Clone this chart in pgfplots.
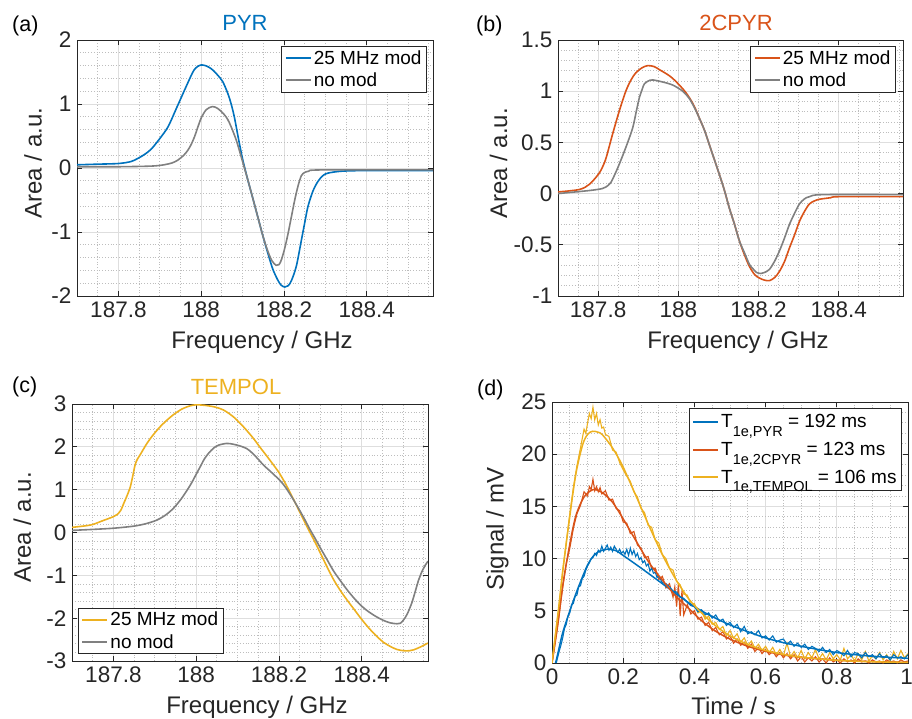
\documentclass[border=0pt]{standalone}
\usepackage{fontspec}
\setmainfont{Liberation Sans}
\usepackage{pgfplots}
\pgfplotsset{compat=1.18}
\definecolor{mblue}{rgb}{0,0.447,0.741}
\definecolor{morange}{rgb}{0.85,0.325,0.098}
\definecolor{myellow}{rgb}{0.929,0.694,0.125}
\definecolor{mgray}{rgb}{0.5,0.5,0.5}
\definecolor{axc}{rgb}{0.15,0.15,0.15}
\definecolor{gridc}{rgb}{0.87,0.87,0.87}
\definecolor{mgridc}{rgb}{0.74,0.74,0.74}
\pgfplotsset{
  mstyle/.style={
    scale only axis,
    axis line style={axc, line width=0.9pt},
    every tick/.style={axc, line width=0.9pt},
    major tick length=5pt,
    minor tick length=0pt,
    tick align=inside,
    grid=both,
    major grid style={gridc, line width=0.9pt},
    minor grid style={mgridc, line width=0.8pt, dotted},
    tick label style={font=\fontsize{22.5}{26}\selectfont, text=axc},
    label style={font=\fontsize{24}{28}\selectfont, text=axc},
    xticklabel style={yshift=-2pt},
    yticklabel style={xshift=-2pt},
    legend cell align=left,
    legend style={font=\fontsize{19}{22}\selectfont, draw=axc, fill=white, line width=0.9pt, inner xsep=3pt, inner ysep=2pt, row sep=3pt},
    legend image code/.code={\draw[##1, line width=2pt, draw=.] (0pt,0pt) -- (25pt,0pt);},
  },
  freqx/.style={
    xmin=187.7, xmax=188.56,
    xtick={187.8,188,188.2,188.4}, xticklabels={187.8,188,188.2,188.4},
    minor xtick={187.75,187.85,187.9,187.95,188.05,188.1,188.15,188.25,188.3,188.35,188.45,188.5,188.55},
    xlabel={Frequency / GHz},
  },
}
\begin{document}
\begin{tikzpicture}
\path[use as bounding box] (0pt,0pt) rectangle (912pt,-718pt);

% (a)
\begin{axis}[mstyle, freqx, at={(77pt,-296pt)}, anchor=south west, width=356pt, height=256pt,
  ymin=-2, ymax=2, ytick={-2,-1,0,1,2}, yticklabels={-2,-1,0,1,2},
  minor ytick={-1.8,-1.6,-1.4,-1.2,-0.8,-0.6,-0.4,-0.2,0.2,0.4,0.6,0.8,1.2,1.4,1.6,1.8},
  ylabel={Area / a.u.},
  xlabel style={at={([xshift=7pt,yshift=-52pt]axis description cs:0.5,0)}, anchor=base},
  ylabel style={at={([xshift=-35.5pt,yshift=5pt]axis description cs:0,0.5)}, anchor=base},
  legend style={at={([xshift=-6pt,yshift=-6pt]axis description cs:1,1)}, anchor=north east}]
\addplot[color=mblue, line width=1.6pt, smooth, tension=0.5] coordinates {
(187.70,0.05) (187.75,0.06) (187.80,0.07) (187.83,0.10) (187.847,0.15) (187.865,0.22) (187.88,0.30) (187.90,0.46) (187.92,0.645) (187.94,0.93) (187.96,1.22) (187.98,1.50) (187.99,1.58) (188.0,1.61) (188.01,1.60) (188.02,1.57) (188.03,1.52) (188.04,1.45) (188.052,1.35) (188.064,1.17) (188.072,1.01) (188.08,0.80) (188.09,0.46) (188.1,0.14) (188.112,-0.17) (188.125,-0.48) (188.137,-0.77) (188.149,-1.06) (188.161,-1.33) (188.173,-1.58) (188.185,-1.75) (188.193,-1.83) (188.202,-1.86) (188.210,-1.84) (188.218,-1.76) (188.23,-1.53) (188.242,-1.13) (188.25,-0.86) (188.258,-0.60) (188.27,-0.36) (188.282,-0.21) (188.294,-0.12) (188.306,-0.08) (188.339,-0.05) (188.40,-0.04) (188.56,-0.04)};
\addlegendentry{25 MHz mod}
\addplot[color=mgray, line width=1.6pt, smooth, tension=0.5] coordinates {
(187.70,0.02) (187.80,0.02) (187.88,0.03) (187.91,0.05) (187.93,0.08) (187.944,0.125) (187.958,0.20) (187.968,0.28) (187.976,0.37) (187.984,0.49) (187.992,0.64) (188.0,0.78) (188.012,0.91) (188.027,0.96) (188.04,0.93) (188.055,0.84) (188.064,0.76) (188.072,0.65) (188.084,0.45) (188.092,0.28) (188.1,0.10) (188.112,-0.17) (188.125,-0.48) (188.137,-0.77) (188.149,-1.06) (188.161,-1.30) (188.171,-1.45) (188.181,-1.52) (188.188,-1.51) (188.194,-1.43) (188.202,-1.25) (188.210,-1.02) (188.218,-0.76) (188.226,-0.50) (188.234,-0.28) (188.242,-0.12) (188.25,-0.07) (188.26,-0.05) (188.29,-0.03) (188.56,-0.03)};
\addlegendentry{no mod}
\end{axis}

% (b)
\begin{axis}[mstyle, freqx, at={(558pt,-296pt)}, anchor=south west, width=345pt, height=256pt,
  ymin=-1, ymax=1.5, ytick={-1,-0.5,0,0.5,1,1.5}, yticklabels={-1,-0.5,0,0.5,1,1.5},
  minor ytick={-0.9,-0.8,-0.7,-0.6,-0.4,-0.3,-0.2,-0.1,0.1,0.2,0.3,0.4,0.6,0.7,0.8,0.9,1.1,1.2,1.3,1.4},
  ylabel={Area / a.u.},
  xlabel style={at={([xshift=7.5pt,yshift=-52pt]axis description cs:0.5,0)}, anchor=base},
  ylabel style={at={([xshift=-51pt,yshift=4.5pt]axis description cs:0,0.5)}, anchor=base},
  legend style={at={([xshift=-7pt,yshift=-6pt]axis description cs:1,1)}, anchor=north east}]
\addplot[color=morange, line width=1.6pt, smooth, tension=0.5] coordinates {
(187.699,0.016) (187.753,0.04) (187.778,0.09) (187.801,0.19) (187.811,0.26) (187.820,0.35) (187.836,0.58) (187.853,0.81) (187.869,1.0) (187.882,1.11) (187.894,1.18) (187.910,1.23) (187.924,1.25) (187.94,1.24) (187.953,1.21) (187.966,1.18) (187.978,1.15) (187.99,1.11) (188.0,1.07) (188.014,1.01) (188.027,0.94) (188.04,0.85) (188.052,0.74) (188.065,0.62) (188.077,0.48) (188.09,0.33) (188.102,0.19) (188.115,0.03) (188.127,-0.14) (188.14,-0.30) (188.152,-0.46) (188.165,-0.60) (188.177,-0.71) (188.19,-0.79) (188.202,-0.825) (188.215,-0.845) (188.227,-0.85) (188.24,-0.82) (188.252,-0.76) (188.265,-0.66) (188.277,-0.53) (188.29,-0.40) (188.302,-0.27) (188.315,-0.17) (188.327,-0.10) (188.34,-0.07) (188.352,-0.055) (188.38,-0.04) (188.401,-0.03) (188.56,-0.03)};
\addlegendentry{25 MHz mod}
\addplot[color=mgray, line width=1.6pt, smooth, tension=0.5] coordinates {
(187.699,0.0) (187.778,0.03) (187.811,0.05) (187.825,0.08) (187.832,0.11) (187.842,0.19) (187.853,0.29) (187.869,0.45) (187.886,0.64) (187.895,0.80) (187.903,0.94) (187.91,1.02) (187.915,1.07) (187.925,1.10) (187.936,1.11) (187.961,1.09) (187.986,1.06) (188.011,1.0) (188.027,0.93) (188.04,0.84) (188.052,0.74) (188.065,0.62) (188.077,0.48) (188.09,0.33) (188.102,0.19) (188.115,0.03) (188.127,-0.14) (188.14,-0.30) (188.152,-0.46) (188.165,-0.58) (188.177,-0.69) (188.185,-0.73) (188.195,-0.77) (188.206,-0.78) (188.215,-0.77) (188.227,-0.74) (188.24,-0.66) (188.252,-0.56) (188.265,-0.43) (188.277,-0.30) (188.29,-0.19) (188.302,-0.10) (188.315,-0.05) (188.327,-0.03) (188.36,-0.01) (188.56,-0.01)};
\addlegendentry{no mod}
\end{axis}

% (c)
\begin{axis}[mstyle, freqx, at={(72pt,-661pt)}, anchor=south west, width=356pt, height=257pt,
  ymin=-3, ymax=3, ytick={-3,-2,-1,0,1,2,3}, yticklabels={-3,-2,-1,0,1,2,3},
  minor ytick={-2.8,-2.6,-2.4,-2.2,-1.8,-1.6,-1.4,-1.2,-0.8,-0.6,-0.4,-0.2,0.2,0.4,0.6,0.8,1.2,1.4,1.6,1.8,2.2,2.4,2.6,2.8},
  ylabel={Area / a.u.},
  xlabel style={at={([xshift=7pt,yshift=-52pt]axis description cs:0.5,0)}, anchor=base},
  ylabel style={at={([xshift=-41pt,yshift=5pt]axis description cs:0,0.5)}, anchor=base},
  legend style={at={([xshift=6pt,yshift=7pt]axis description cs:0,0)}, anchor=south west}]
\addplot[color=myellow, line width=1.6pt, smooth, tension=0.5] coordinates {
(187.700,0.12) (187.745,0.175) (187.77,0.26) (187.80,0.37) (187.809,0.42) (187.818,0.52) (187.825,0.68) (187.833,0.86) (187.841,1.07) (187.847,1.33) (187.853,1.60) (187.859,1.73) (187.865,1.82) (187.881,2.08) (187.897,2.29) (187.913,2.47) (187.929,2.62) (187.945,2.75) (187.965,2.88) (187.986,2.96) (188.0,2.98) (188.02,2.97) (188.045,2.93) (188.066,2.86) (188.09,2.70) (188.114,2.47) (188.138,2.20) (188.155,1.98) (188.171,1.78) (188.185,1.60) (188.2,1.40) (188.214,1.17) (188.227,0.93) (188.239,0.70) (188.251,0.46) (188.263,0.23) (188.275,0.0) (188.288,-0.24) (188.300,-0.48) (188.316,-0.80) (188.332,-1.10) (188.348,-1.35) (188.364,-1.57) (188.382,-1.80) (188.400,-2.03) (188.418,-2.24) (188.436,-2.42) (188.452,-2.56) (188.469,-2.66) (188.485,-2.73) (188.501,-2.76) (188.515,-2.76) (188.525,-2.74) (188.54,-2.68) (188.56,-2.58)};
\addlegendentry{25 MHz mod}
\addplot[color=mgray, line width=1.6pt, smooth, tension=0.5] coordinates {
(187.700,0.05) (187.745,0.07) (187.80,0.10) (187.85,0.15) (187.88,0.21) (187.905,0.29) (187.925,0.40) (187.945,0.565) (187.965,0.80) (187.986,1.11) (188.0,1.36) (188.01,1.54) (188.02,1.72) (188.03,1.85) (188.042,1.97) (188.054,2.04) (188.074,2.08) (188.09,2.06) (188.106,2.02) (188.122,1.96) (188.135,1.86) (188.15,1.71) (188.163,1.57) (188.179,1.43) (188.19,1.33) (188.2,1.24) (188.214,1.08) (188.227,0.89) (188.239,0.70) (188.251,0.50) (188.263,0.29) (188.275,0.07) (188.288,-0.15) (188.300,-0.36) (188.316,-0.63) (188.332,-0.90) (188.348,-1.12) (188.364,-1.33) (188.382,-1.54) (188.400,-1.72) (188.418,-1.86) (188.436,-1.97) (188.452,-2.05) (188.469,-2.11) (188.485,-2.13) (188.493,-2.12) (188.501,-2.04) (188.51,-1.90) (188.521,-1.64) (188.53,-1.35) (188.537,-1.12) (188.545,-0.92) (188.553,-0.77) (188.56,-0.67)};
\addlegendentry{no mod}
\end{axis}

% (d)
\begin{axis}[mstyle, at={(552pt,-663pt)}, anchor=south west, width=356pt, height=261pt,
  xmin=0, xmax=1, ymin=0, ymax=25,
  xtick={0,0.2,0.4,0.6,0.8,1}, xticklabels={0,0.2,0.4,0.6,0.8,\makebox[6pt]{\kern-3pt 1}},
  ytick={0,5,10,15,20,25}, yticklabels={0,5,10,15,20,25},
  minor xtick={0.05,0.1,0.15,0.25,0.3,0.35,0.45,0.5,0.55,0.65,0.7,0.75,0.85,0.9,0.95},
  minor ytick={1,2,3,4,6,7,8,9,11,12,13,14,16,17,18,19,21,22,23,24},
  xlabel={Time / s}, ylabel={Signal / mV},
  xlabel style={at={([xshift=3.5pt,yshift=-51pt]axis description cs:0.5,0)}, anchor=base},
  ylabel style={at={([xshift=-48.5pt,yshift=3.5pt]axis description cs:0,0.5)}, anchor=base},
  legend style={at={([xshift=-6pt,yshift=-6pt]axis description cs:1,1)}, anchor=north east, row sep=9pt, inner ysep=4pt}]
% data (noisy traces)
\addplot[color=myellow, line width=1.1pt, forget plot] coordinates {
(0,0) (0.01,2.9) (0.02,5.5) (0.03,8.9) (0.04,11.6) (0.05,14.3) (0.06,16.8) (0.07,18.9) (0.08,20.6) (0.09,22.4) (0.095,22.0) (0.10,23.0) (0.105,23.9) (0.11,23.4) (0.115,24.5) (0.12,23.3) (0.125,23.9) (0.13,22.8) (0.135,23.3) (0.14,22.5) (0.145,22.6) (0.15,21.9) (0.16,21.7) (0.17,20.4) (0.18,20.2) (0.19,19.2) (0.20,18.5) (0.21,17.9) (0.22,17.4) (0.23,16.4) (0.24,15.9) (0.25,14.8) (0.26,14.4) (0.27,13.2) (0.28,13.0) (0.29,11.8) (0.30,11.5) (0.31,10.4) (0.32,10.0) (0.33,9.1) (0.34,8.9) (0.35,7.8) (0.36,7.5) (0.37,6.6) (0.38,6.5) (0.39,5.6) (0.40,5.7) (0.41,4.8) (0.42,5.0) (0.43,4.2) (0.44,4.5) (0.45,3.7) (0.46,3.9) (0.47,3.2) (0.48,3.5) (0.49,2.6) (0.50,3.1) (0.51,2.4) (0.52,2.8) (0.53,2.0) (0.54,2.4) (0.55,1.7) (0.56,2.1) (0.57,1.4) (0.58,1.8) (0.59,1.2) (0.60,1.6) (0.61,1.0) (0.62,1.5) (0.63,0.8) (0.64,1.3) (0.65,0.7) (0.66,1.9) (0.67,0.6) (0.68,1.1) (0.69,0.5) (0.70,1.2) (0.71,0.4) (0.72,1.0) (0.73,0.5) (0.74,1.3) (0.75,0.4) (0.76,0.9) (0.77,0.3) (0.78,1.0) (0.79,0.4) (0.80,0.8) (0.81,0.3) (0.82,1.4) (0.83,0.4) (0.84,0.8) (0.85,0.2) (0.86,0.9) (0.87,0.3) (0.88,1.1) (0.89,0.2) (0.90,0.7) (0.91,0.4) (0.92,1.0) (0.93,0.3) (0.94,0.8) (0.95,0.2) (0.96,1.1) (0.97,0.4) (0.98,1.2) (0.99,0.5) (1.00,0.9)};
\addplot[color=morange, line width=1.1pt, forget plot] coordinates {
(0,0) (0.005,1.1) (0.01,2.3) (0.02,4.6) (0.03,7.2) (0.04,9.5) (0.05,11.0) (0.06,12.9) (0.07,14.3) (0.08,15.1) (0.09,16.4) (0.10,16.0) (0.105,16.9) (0.11,16.6) (0.115,17.6) (0.12,16.5) (0.125,16.9) (0.13,16.4) (0.135,16.8) (0.14,16.2) (0.15,16.5) (0.16,15.6) (0.17,15.7) (0.18,14.8) (0.19,14.6) (0.20,13.5) (0.21,13.4) (0.22,12.4) (0.23,12.6) (0.24,11.3) (0.25,11.0) (0.26,10.1) (0.27,10.2) (0.28,9.0) (0.29,9.1) (0.30,8.0) (0.31,8.3) (0.32,7.2) (0.33,7.6) (0.34,6.3) (0.345,7.3) (0.35,5.4) (0.355,7.6) (0.36,4.5) (0.365,6.9) (0.37,4.6) (0.38,5.6) (0.39,4.7) (0.40,5.0) (0.41,4.2) (0.42,4.4) (0.43,3.6) (0.44,3.9) (0.45,3.1) (0.46,3.4) (0.47,2.7) (0.48,3.0) (0.49,2.3) (0.50,2.6) (0.51,1.9) (0.52,2.3) (0.53,1.7) (0.54,2.0) (0.55,1.4) (0.56,1.8) (0.57,1.1) (0.58,1.5) (0.59,0.9) (0.60,1.3) (0.61,0.8) (0.62,1.1) (0.63,0.6) (0.64,1.0) (0.65,0.5) (0.66,0.9) (0.67,0.4) (0.68,0.8) (0.69,0.2) (0.70,0.6) (0.71,0.1) (0.72,0.5) (0.73,0.2) (0.74,0.6) (0.75,0.1) (0.76,0.4) (0.77,0.0) (0.78,0.5) (0.79,0.1) (0.80,0.3) (0.81,0.0) (0.82,0.4) (0.83,0.1) (0.84,0.3) (0.85,0.0) (0.86,0.4) (0.87,0.1) (0.88,0.2) (0.89,0.0) (0.90,0.3) (0.91,0.1) (0.92,0.2) (0.93,0.0) (0.94,0.3) (0.95,0.1) (0.96,0.2) (0.97,0.0) (0.98,0.3) (0.99,0.1) (1.00,0.2)};
\addplot[color=mblue, line width=1.1pt, forget plot] coordinates {
(0.012,0) (0.02,1.1) (0.025,1.7) (0.03,2.4) (0.035,3.3) (0.04,3.7) (0.045,4.5) (0.05,4.8) (0.055,5.6) (0.06,5.7) (0.065,6.4) (0.07,6.5) (0.075,7.3) (0.08,7.4) (0.085,8.1) (0.09,8.3) (0.095,8.9) (0.10,9.3) (0.105,9.6) (0.11,10.0) (0.115,10.1) (0.12,10.5) (0.125,10.3) (0.13,10.8) (0.135,10.6) (0.14,11.2) (0.145,10.7) (0.15,11.0) (0.155,11.3) (0.16,10.8) (0.165,11.1) (0.17,10.7) (0.175,11.2) (0.18,10.9) (0.185,10.6) (0.19,10.9) (0.195,10.5) (0.20,10.7) (0.205,10.4) (0.21,10.9) (0.215,10.3) (0.22,11.0) (0.225,10.4) (0.23,10.8) (0.235,10.2) (0.24,10.5) (0.245,9.9) (0.25,10.1) (0.255,9.6) (0.26,9.8) (0.265,9.3) (0.27,9.5) (0.275,8.8) (0.28,9.1) (0.285,8.6) (0.29,8.7) (0.295,8.2) (0.30,8.3) (0.31,7.7) (0.32,7.6) (0.33,7.3) (0.34,6.9) (0.35,6.8) (0.36,6.3) (0.37,6.2) (0.38,5.8) (0.39,5.5) (0.40,5.4) (0.41,4.9) (0.42,5.1) (0.43,4.6) (0.44,4.8) (0.45,4.3) (0.46,4.6) (0.47,4.0) (0.48,4.2) (0.49,3.6) (0.50,3.9) (0.51,3.4) (0.52,3.7) (0.53,3.0) (0.54,3.5) (0.55,2.8) (0.56,3.0) (0.57,2.7) (0.58,3.1) (0.59,2.4) (0.60,2.6) (0.61,2.2) (0.62,2.6) (0.63,2.0) (0.64,2.2) (0.65,2.3) (0.66,1.8) (0.67,2.1) (0.68,1.6) (0.69,1.9) (0.70,1.5) (0.71,1.8) (0.72,1.3) (0.73,1.6) (0.74,1.4) (0.75,1.1) (0.76,1.5) (0.77,1.0) (0.78,1.3) (0.79,0.8) (0.80,1.2) (0.81,1.0) (0.82,0.7) (0.83,1.2) (0.84,0.6) (0.85,1.0) (0.86,0.9) (0.87,0.5) (0.88,1.0) (0.89,0.6) (0.90,0.8) (0.91,0.4) (0.92,0.9) (0.93,0.5) (0.94,0.7) (0.95,0.3) (0.96,0.8) (0.97,0.5) (0.98,0.6) (0.99,0.4) (1.00,0.8)};
% fits
\addplot[color=mblue, line width=1.5pt, smooth, tension=0.5] coordinates {
(0.01,0) (0.017,1.0) (0.03,2.9) (0.05,5.0) (0.07,6.9) (0.085,8.2) (0.1,9.4) (0.115,10.2) (0.13,10.65) (0.155,10.9) (0.18,10.75) (0.2,10.3) (0.25,9.1) (0.3,7.85) (0.35,6.6) (0.4,5.4) (0.45,4.45) (0.5,3.65) (0.55,3.0) (0.6,2.4) (0.65,1.95) (0.7,1.6) (0.8,1.0) (0.9,0.65) (1.0,0.45)};
\addlegendentry{T\raisebox{-0.45em}{\fontsize{14.5}{15}\selectfont 1e,PYR} = 192 ms}
\addplot[color=morange, line width=1.5pt, smooth, tension=0.5] coordinates {
(0,0) (0.016,3.6) (0.03,7.4) (0.049,11.2) (0.067,14.1) (0.09,15.9) (0.115,16.6) (0.14,16.35) (0.17,15.4) (0.2,13.8) (0.236,11.7) (0.273,9.6) (0.311,7.9) (0.348,6.4) (0.385,5.2) (0.42,4.05) (0.46,3.04) (0.5,2.29) (0.55,1.6) (0.6,1.12) (0.65,0.78) (0.7,0.55) (0.8,0.27) (0.9,0.13) (1.0,0.06)};
\addlegendentry{T\raisebox{-0.45em}{\fontsize{14.5}{15}\selectfont 1e,2CPYR} = 123 ms}
\addplot[color=myellow, line width=1.5pt, smooth, tension=0.5] coordinates {
(0,0) (0.016,4.5) (0.03,8.7) (0.049,13.8) (0.067,18.1) (0.086,20.9) (0.1,21.9) (0.114,22.2) (0.13,22.1) (0.142,21.85) (0.17,20.6) (0.198,18.9) (0.236,16.0) (0.273,13.1) (0.311,10.3) (0.348,8.0) (0.385,6.1) (0.423,4.7) (0.46,3.55) (0.5,2.6) (0.55,1.77) (0.6,1.2) (0.65,0.82) (0.7,0.56) (0.8,0.26) (0.9,0.12) (1.0,0.06)};
\addlegendentry{T\raisebox{-0.45em}{\fontsize{14.5}{15}\selectfont 1e,TEMPOL} = 106 ms}
\end{axis}

% titles and panel letters
\node[anchor=base, text=mblue, font=\fontsize{22}{26}\selectfont] at (245pt,-30.7pt) {PYR};
\node[anchor=base, text=morange, font=\fontsize{22}{26}\selectfont] at (736pt,-30.7pt) {2CPYR};
\node[anchor=base, text=myellow, font=\fontsize{22}{26}\selectfont] at (236pt,-394pt) {TEMPOL};
\node[anchor=base west, inner sep=0pt, font=\fontsize{21.5}{25}\selectfont] at (12pt,-31pt) {(a)};
\node[anchor=base west, inner sep=0pt, font=\fontsize{21.5}{25}\selectfont] at (476pt,-31pt) {(b)};
\node[anchor=base west, inner sep=0pt, font=\fontsize{21.5}{25}\selectfont] at (12pt,-392pt) {(c)};
\node[anchor=base west, inner sep=0pt, font=\fontsize{21.5}{25}\selectfont] at (477pt,-395pt) {(d)};
\end{tikzpicture}
\end{document}
